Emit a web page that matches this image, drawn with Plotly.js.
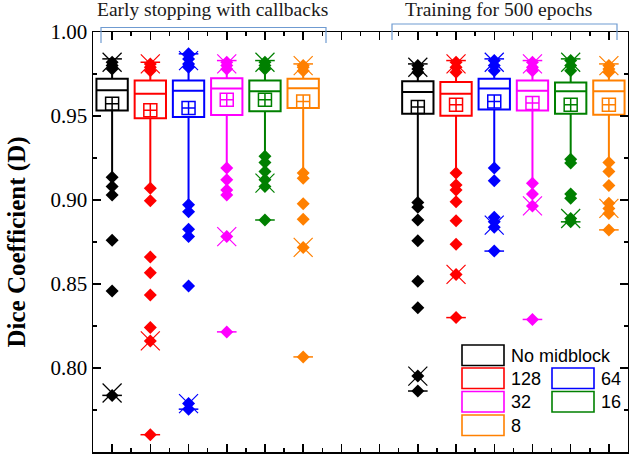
<!DOCTYPE html>
<html>
<head>
<meta charset="utf-8">
<script src="https://cdn.plot.ly/plotly-3.0.1.min.js"></script>
<style>html,body{margin:0;padding:0;background:#fff;}#chart{width:629px;height:464px;}</style>
</head>
<body>
<div id="chart"></div>
<script>
// ---- Data ----
const categories = ['No midblock', '128', '64', '32', '16', '8'];
const groups = ['Early stopping with callbacks', 'Training for 500 epochs'];

// Early stopping with callbacks
const esQ3     = [0.9721, 0.9712, 0.9711, 0.9724, 0.9712, 0.9721];
const esMedian = [0.9653, 0.9633, 0.9651, 0.9663, 0.9647, 0.9665];
const esQ1     = [0.9533, 0.9486, 0.9494, 0.9506, 0.9528, 0.9548];
const esMean   = [0.9573, 0.9534, 0.9548, 0.9597, 0.9597, 0.9587];
const esUpper  = [0.9770, 0.9760, 0.9780, 0.9770, 0.9770, 0.9760];
const esLower  = [0.9150, 0.9090, 0.8980, 0.9200, 0.9270, 0.9170];
const esOutHigh = [
  [0.978, 0.980, 0.982], [0.977, 0.979, 0.981], [0.979, 0.981, 0.984, 0.987],
  [0.978, 0.980, 0.982], [0.978, 0.980, 0.982], [0.977, 0.979, 0.980]
];
const esOutLow = [
  [0.9136, 0.908, 0.903, 0.876, 0.8458, 0.7837],
  [0.907, 0.8995, 0.866, 0.8567, 0.8434, 0.8241, 0.8161, 0.7603],
  [0.8971, 0.893, 0.8826, 0.8782, 0.8488, 0.7788, 0.7755],
  [0.919, 0.912, 0.906, 0.903, 0.8782, 0.8215],
  [0.926, 0.9223, 0.917, 0.912, 0.908, 0.8881],
  [0.916, 0.913, 0.8977, 0.8885, 0.8718, 0.8066]
];
const esP99 = [0.982, 0.981, 0.983, 0.981, 0.982, 0.980];
const esP1  = [0.7851, 0.8161, 0.7788, 0.8782, 0.9100, 0.8718];
const esMax = [0.984, 0.982, 0.987, 0.983, 0.983, 0.981];
const esMin = [0.7837, 0.7603, 0.7755, 0.8215, 0.8881, 0.8066];

// Training for 500 epochs
const tQ3     = [0.9707, 0.9703, 0.9721, 0.9711, 0.9700, 0.9711];
const tMedian = [0.9643, 0.9633, 0.9663, 0.9651, 0.9647, 0.9647];
const tQ1     = [0.9514, 0.9502, 0.9538, 0.9533, 0.9514, 0.9508];
const tMean   = [0.9554, 0.9567, 0.9587, 0.9578, 0.9567, 0.9567];
const tUpper  = [0.9750, 0.9750, 0.9760, 0.9760, 0.9760, 0.9750];
const tLower  = [0.9000, 0.9180, 0.9200, 0.9110, 0.9260, 0.9240];
const tOutHigh = [
  [0.976, 0.978, 0.980], [0.976, 0.979, 0.982], [0.977, 0.980, 0.983],
  [0.977, 0.979, 0.982], [0.977, 0.980, 0.983], [0.976, 0.978, 0.980]
];
const tOutLow = [
  [0.8985, 0.8957, 0.8881, 0.8758, 0.8517, 0.8358, 0.7952, 0.7863],
  [0.916, 0.909, 0.906, 0.899, 0.8877, 0.8736, 0.8557, 0.830],
  [0.919, 0.9114, 0.8897, 0.887, 0.8838, 0.8696],
  [0.910, 0.9036, 0.8965, 0.8289],
  [0.9243, 0.922, 0.9036, 0.901, 0.889, 0.887],
  [0.9223, 0.917, 0.9086, 0.898, 0.895, 0.892, 0.8822]
];
const tP99 = [0.979, 0.981, 0.982, 0.981, 0.982, 0.980];
const tP1  = [0.7952, 0.8557, 0.8850, 0.8965, 0.8890, 0.8950];
const tMax = [0.981, 0.983, 0.984, 0.983, 0.984, 0.981];
const tMin = [0.7863, 0.8300, 0.8696, 0.8289, 0.8870, 0.8822];

// ---- Styles ----
const colors = ['#000000', '#ff0000', '#0000ff', '#ff00ff', '#008000', '#ff8000'];
const groupStats = [
  {q1: esQ1, med: esMedian, q3: esQ3, mean: esMean, up: esUpper, lo: esLower,
   hi: esOutHigh, low: esOutLow, p99: esP99, p1: esP1, mx: esMax, mn: esMin},
  {q1: tQ1, med: tMedian, q3: tQ3, mean: tMean, up: tUpper, lo: tLower,
   hi: tOutHigh, low: tOutLow, p99: tP99, p1: tP1, mx: tMax, mn: tMin}
];
const slotsPerGroup = 8; // 6 boxes + 2 empty slots between groups

const traces = [];
groupStats.forEach((g, gi) => {
  categories.forEach((cat, ci) => {
    const x = gi * slotsPerGroup + ci + 1;
    const c = colors[ci];
    traces.push({
      type: 'box', x: [x], q1: [g.q1[ci]], median: [g.med[ci]], q3: [g.q3[ci]],
      lowerfence: [g.lo[ci]], upperfence: [g.up[ci]],
      width: 0.82, whiskerwidth: 0, boxpoints: false,
      line: {color: c, width: 2}, fillcolor: 'rgba(0,0,0,0)',
      showlegend: false, hoverinfo: 'skip'
    });
    const outs = g.hi[ci].concat(g.low[ci]);
    traces.push({
      type: 'scatter', mode: 'markers', x: outs.map(() => x), y: outs,
      marker: {symbol: 'diamond', size: 10, color: c, line: {width: 0}},
      showlegend: false, cliponaxis: false, hoverinfo: 'skip'
    });
    traces.push({
      type: 'scatter', mode: 'markers', x: [x, x], y: [g.p99[ci], g.p1[ci]],
      marker: {symbol: 'x-thin-open', size: 19, color: c, line: {width: 1.2, color: c}},
      showlegend: false, cliponaxis: false, hoverinfo: 'skip'
    });
    traces.push({
      type: 'scatter', mode: 'markers', x: [x, x], y: [g.mx[ci], g.mn[ci]],
      marker: {symbol: 'line-ew-open', size: 14, color: c, line: {width: 1.5, color: c}},
      showlegend: false, cliponaxis: false, hoverinfo: 'skip'
    });
    traces.push({
      type: 'scatter', mode: 'markers', x: [x], y: [g.mean[ci]],
      marker: {symbol: 'square-cross-open', size: 13, color: c, line: {width: 1.5, color: c}},
      showlegend: false, cliponaxis: false, hoverinfo: 'skip'
    });
  });
});

// ---- Layout ----
const W = 629, H = 464, mL = 93, mR = 1, mT = 32, mB = 12;
const pw = W - mL - mR, ph = H - mT - mB;
const px = v => (v - mL) / pw;          // pixel -> paper x
const py = v => (H - mB - v) / ph;      // pixel -> paper y

const shapes = [];
const annotations = [];
const bracketColor = '#6f9bd1';
// group brackets
[[101, 326, 27.5, 43], [392, 617, 24, 40]].forEach((b, i) => {
  shapes.push({type: 'path', xref: 'paper', yref: 'paper',
    path: `M ${px(b[0])} ${py(b[3])} L ${px(b[0])} ${py(b[2])} L ${px(b[1])} ${py(b[2])} L ${px(b[1])} ${py(b[3])}`,
    line: {color: bracketColor, width: 1.2}});
});
annotations.push({text: groups[0], xref: 'paper', yref: 'paper', x: px(212), y: py(10),
  xanchor: 'center', yanchor: 'middle', showarrow: false,
  font: {family: 'Liberation Serif, Times New Roman, serif', size: 19.5, color: '#1a1a1a'}});
annotations.push({text: groups[1], xref: 'paper', yref: 'paper', x: px(498.5), y: py(10),
  xanchor: 'center', yanchor: 'middle', showarrow: false,
  font: {family: 'Liberation Serif, Times New Roman, serif', size: 19.5, color: '#1a1a1a'}});

// manual legend (two columns)
const legendCells = [[0, 462, 345], [1, 462, 368], [2, 552, 368], [3, 462, 391.5], [4, 552, 391.5], [5, 462, 415]];
legendCells.forEach(([ci, lx, ly]) => {
  shapes.push({type: 'rect', xref: 'paper', yref: 'paper',
    x0: px(lx), x1: px(lx + 42), y0: py(ly), y1: py(ly + 20.5),
    line: {color: colors[ci], width: 1.6}, fillcolor: 'rgba(0,0,0,0)'});
  annotations.push({text: categories[ci], xref: 'paper', yref: 'paper',
    x: px(lx + 47), y: py(ly + 10.5), xanchor: 'left', yanchor: 'middle', showarrow: false,
    font: {family: 'Liberation Sans, Arial, sans-serif', size: 18, color: '#000'}});
});

const layout = {
  width: W, height: H,
  margin: {l: mL, r: mR, t: mT, b: mB, pad: 0},
  paper_bgcolor: '#fff', plot_bgcolor: '#fff',
  showlegend: false, boxmode: 'overlay',
  xaxis: {
    range: [0.5, 14.5], tickmode: 'linear', tick0: 1, dtick: 1,
    ticks: 'inside', ticklen: 8, tickwidth: 1.5, tickcolor: '#000',
    showticklabels: false, showgrid: false, zeroline: false,
    showline: true, linecolor: '#000', linewidth: 1.5, mirror: 'ticks',
    minor: {ticks: 'inside', ticklen: 4, tickwidth: 1.5, tickcolor: '#000', tick0: 0.5, dtick: 0.5, showgrid: false}
  },
  yaxis: {
    range: [0.75, 1.0], tickmode: 'linear', tick0: 0.75, dtick: 0.05, tickformat: '.2f',
    ticks: 'inside', ticklen: 8, tickwidth: 1.5, tickcolor: '#000',
    showgrid: false, zeroline: false,
    showline: true, linecolor: '#000', linewidth: 1.5, mirror: 'ticks',
    minor: {ticks: 'inside', ticklen: 4, tickwidth: 1.5, tickcolor: '#000', dtick: 0.025, showgrid: false},
    tickfont: {family: 'Liberation Serif, Times New Roman, serif', size: 21, color: '#000'},
    title: {text: 'Dice Coefficient (D)', standoff: 18,
      font: {family: 'Liberation Serif, Times New Roman, serif', size: 25, color: '#000', weight: 'bold'}}
  },
  shapes: shapes,
  annotations: annotations
};

Plotly.newPlot('chart', traces, layout, {displayModeBar: false, staticPlot: true});
</script>
</body>
</html>
